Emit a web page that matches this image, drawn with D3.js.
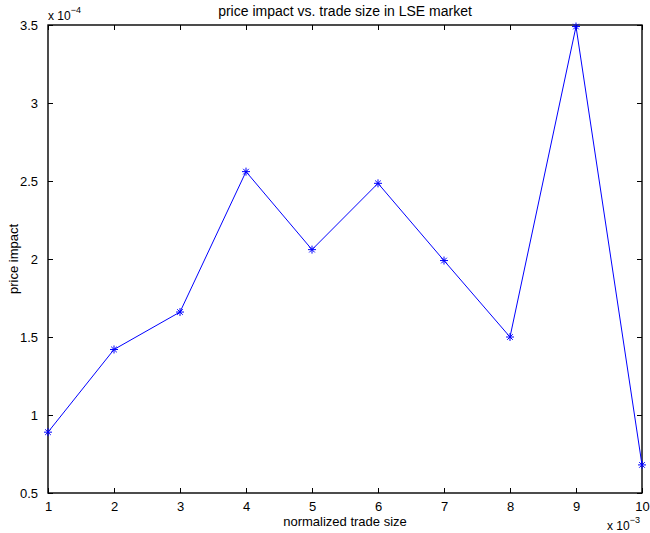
<!DOCTYPE html>
<html>
<head>
<meta charset="utf-8">
<script src="https://cdn.jsdelivr.net/npm/d3@7"></script>
<style>
  body { margin: 0; background: #fff; }
  svg { display: block; font-family: "Liberation Sans", Arial, Helvetica, sans-serif; }
</style>
</head>
<body>
<svg id="chart" width="650" height="533"></svg>
<script>
// normalized trade size (x 10^-3) and price impact (x 10^-4)
const tradeSize = [1, 2, 3, 4, 5, 6, 7, 8, 9, 10];
const priceImpact = [0.89, 1.42, 1.66, 2.56, 2.06, 2.485, 1.99, 1.50, 3.49, 0.68];
const xTicks = [1, 2, 3, 4, 5, 6, 7, 8, 9, 10];
const yTicks = [0.5, 1, 1.5, 2, 2.5, 3, 3.5];

const width = 650;
const height = 533;
const margin = { top: 25, right: 8, bottom: 40, left: 48 };
const innerW = width - margin.left - margin.right;
const innerH = height - margin.top - margin.bottom;

const svg = d3.select('#chart');
const g = svg.append('g')
  .attr('transform', `translate(${margin.left},${margin.top})`);

const x = d3.scaleLinear().domain([1, 10]).range([0, innerW]);
const y = d3.scaleLinear().domain([0.5, 3.5]).range([innerH, 0]);

const tickLen = 5;

// axes (MATLAB-style box with inward ticks on all four sides)
const styleAxis = (sel) => {
  sel.select('.domain').remove();
  sel.selectAll('line').attr('stroke', '#000').attr('stroke-width', 1);
  sel.selectAll('text').attr('fill', '#000').style('font-size', '13px');
};

g.append('g')
  .attr('transform', `translate(0,${innerH})`)
  .call(d3.axisBottom(x).tickValues(xTicks).tickSize(-tickLen).tickPadding(9).tickFormat(d3.format('d')))
  .call(styleAxis);

g.append('g')
  .call(d3.axisTop(x).tickValues(xTicks).tickSize(-tickLen).tickFormat(''))
  .call(styleAxis);

g.append('g')
  .call(d3.axisLeft(y).tickValues(yTicks).tickSize(-tickLen).tickPadding(10).tickFormat(d3.format('')))
  .call(styleAxis);

g.append('g')
  .attr('transform', `translate(${innerW},0)`)
  .call(d3.axisRight(y).tickValues(yTicks).tickSize(-tickLen).tickFormat(''))
  .call(styleAxis);

g.append('rect')
  .attr('width', innerW)
  .attr('height', innerH)
  .attr('fill', 'none')
  .attr('stroke', '#000')
  .attr('stroke-width', 1.4);

// line
const line = d3.line()
  .x((d, i) => x(tradeSize[i]))
  .y((d) => y(d));

g.append('path')
  .datum(priceImpact)
  .attr('d', line)
  .attr('fill', 'none')
  .attr('stroke', '#0000ff')
  .attr('stroke-width', 1);

// asterisk markers
const r = 4;
const markers = g.selectAll('.marker')
  .data(priceImpact)
  .enter()
  .append('g')
  .attr('class', 'marker')
  .attr('transform', (d, i) => `translate(${x(tradeSize[i])},${y(d)})`);

markers.append('path')
  .attr('d', `M${-r},0H${r}M0,${-r}V${r}M${-r * 0.7},${-r * 0.7}L${r * 0.7},${r * 0.7}M${-r * 0.7},${r * 0.7}L${r * 0.7},${-r * 0.7}`)
  .attr('stroke', '#0000ff')
  .attr('stroke-width', 1);

// title and labels
svg.append('text')
  .attr('x', margin.left + innerW / 2)
  .attr('y', 16)
  .attr('text-anchor', 'middle')
  .style('font-size', '14px')
  .text('price impact vs. trade size in LSE market');

svg.append('text')
  .attr('x', margin.left + innerW / 2)
  .attr('y', 526)
  .attr('text-anchor', 'middle')
  .style('font-size', '13px')
  .text('normalized trade size');

svg.append('text')
  .attr('transform', `translate(18,${margin.top + innerH / 2}) rotate(-90)`)
  .attr('text-anchor', 'middle')
  .style('font-size', '13px')
  .text('price impact');

// exponent labels
const yExp = svg.append('text')
  .attr('x', 48)
  .attr('y', 20)
  .style('font-size', '12px');
yExp.append('tspan').text('x 10');
yExp.append('tspan').attr('dy', -7).style('font-size', '9px').text('\u22124');

const xExp = svg.append('text')
  .attr('x', 607)
  .attr('y', 530)
  .style('font-size', '12px');
xExp.append('tspan').text('x 10');
xExp.append('tspan').attr('dy', -7).style('font-size', '9px').text('\u22123');
</script>
</body>
</html>
